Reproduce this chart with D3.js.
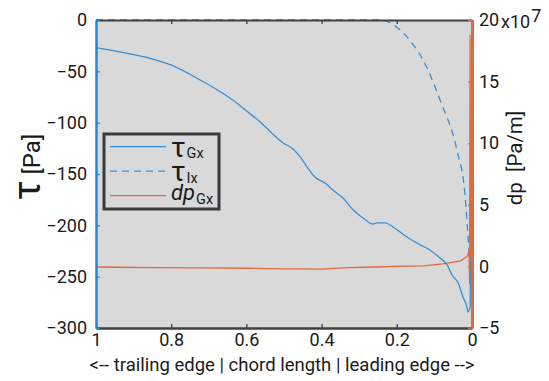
<!DOCTYPE html>
<html>
<head>
<meta charset="utf-8">
<script src="https://cdn.jsdelivr.net/npm/d3@7"></script>
<style>
  body { margin: 0; background: #fff; }
  svg text { font-family: Roboto, "Noto Sans", sans-serif; fill: #1a1a1a; }
</style>
</head>
<body>
<div id="chart"></div>
<script>
// chord position (1 = trailing edge, 0 = leading edge)
const gxChord = [1, 0.989, 0.93, 0.856, 0.801, 0.723, 0.68, 0.636, 0.6, 0.564, 0.524, 0.503, 0.476,
  0.457, 0.439, 0.418, 0.391, 0.37, 0.343, 0.316, 0.29, 0.263, 0.253, 0.231, 0.21, 0.173, 0.138,
  0.112, 0.085, 0.066, 0.053, 0.037, 0.024, 0.013, 0.011, 0.005, 0.003, 0.001, 0];
const tauGx = [-27, -27.6, -31.5, -37.3, -43.8, -58.4, -67.5, -78, -88.5, -99, -113, -119.5, -125.6,
  -133.4, -143, -153, -158.8, -165.6, -173.4, -185, -192.8, -198.7, -197.7, -197.7, -201.6, -211.4,
  -219, -224, -231.8, -238.6, -248.4, -256, -269.8, -280.5, -284.4, -279.5, -200, -60, -22];

const ixChord = [1, 0.6, 0.3, 0.245, 0.2, 0.165, 0.13, 0.085, 0.04, 0.019, 0.01, 0.003];
const tauIx = [0, 0, 0, 0, -7, -20, -39, -78, -127, -169, -214, -260];

// pressure gradient, x10^7 Pa/m
const dpChord = [1, 0.95, 0.85, 0.72, 0.6, 0.5, 0.45, 0.4, 0.33, 0.26, 0.2, 0.13, 0.077,
  0.03, 0.013, 0.01, 0.008, 0.0065, 0.005, 0.004, 0];
const dpGx = [-0.05, -0.07, -0.1, -0.12, -0.15, -0.2, -0.2, -0.22, -0.1, -0.05, 0, 0.05, 0.2,
  0.45, 0.8, 1.0, 1.3, -1.4, 18.8, 1.0, 0.5];

const xTicks = [1, 0.8, 0.6, 0.4, 0.2, 0];
const tauTicks = [0, -50, -100, -150, -200, -250, -300];
const dpTicks = [20, 15, 10, 5, 0, -5];

const blue = "#3a8fd3";
const blueAxis = "#2288d8";
const orange = "#e2693c";
const dark = "#404040";

const W = 549, H = 381;
const plot = { left: 96, right: 472, top: 20, bottom: 328 };

const svg = d3.select("#chart").append("svg").attr("width", W).attr("height", H);

const x = d3.scaleLinear().domain([1, 0]).range([plot.left, plot.right]);
const yL = d3.scaleLinear().domain([-300, 0]).range([plot.bottom, plot.top]);
const yR = d3.scaleLinear().domain([-5, 20]).range([plot.bottom, plot.top]);

svg.append("rect")
  .attr("x", plot.left).attr("y", plot.top)
  .attr("width", plot.right - plot.left).attr("height", plot.bottom - plot.top)
  .attr("fill", "#d9d9d9");

svg.append("clipPath").attr("id", "clip").append("rect")
  .attr("x", plot.left).attr("y", plot.top - 2)
  .attr("width", plot.right - plot.left).attr("height", plot.bottom - plot.top + 4);

const lines = svg.append("g").attr("clip-path", "url(#clip)");

const lineL = (xs) => d3.line()
  .x((d, i) => x(xs[i]))
  .y((d) => yL(d))
  .curve(d3.curveMonotoneX);

lines.append("path")
  .datum(tauIx)
  .attr("d", lineL(ixChord))
  .attr("fill", "none").attr("stroke", blue).attr("stroke-width", 1.3)
  .attr("stroke-dasharray", "7,5");

lines.append("path")
  .datum(tauGx)
  .attr("d", lineL(gxChord))
  .attr("fill", "none").attr("stroke", blue).attr("stroke-width", 1.3);

lines.append("path")
  .datum(dpGx)
  .attr("d", d3.line().x((d, i) => x(dpChord[i])).y((d) => yR(d)))
  .attr("fill", "none").attr("stroke", orange).attr("stroke-width", 1.3);

// axes, ticks pointing inward
const styleAxis = (g, color, width) => {
  g.attr("font-size", null).attr("font-family", null);
  g.select(".domain").attr("stroke", color).attr("stroke-width", width);
  g.selectAll(".tick line").attr("stroke", color).attr("stroke-width", 1.3);
  g.selectAll(".tick text").style("font-size", "18px").attr("fill", "#1a1a1a");
};

svg.append("g")
  .attr("transform", `translate(0,${plot.top})`)
  .call(d3.axisTop(x).tickValues(xTicks).tickSize(-4).tickSizeOuter(0).tickFormat(""))
  .call((g) => styleAxis(g, dark, 2));

svg.append("g")
  .attr("transform", `translate(0,${plot.bottom})`)
  .call(d3.axisBottom(x).tickValues(xTicks).tickSize(-4).tickSizeOuter(0).tickPadding(5)
    .tickFormat(d3.format("")))
  .call((g) => styleAxis(g, dark, 2.5));

svg.append("g")
  .attr("transform", `translate(${plot.left},0)`)
  .call(d3.axisLeft(yL).tickValues(tauTicks).tickSize(-4).tickSizeOuter(0).tickPadding(9))
  .call((g) => styleAxis(g, blueAxis, 2.5));

svg.append("g")
  .attr("transform", `translate(${plot.right},0)`)
  .call(d3.axisRight(yR).tickValues(dpTicks).tickSize(-4).tickSizeOuter(0).tickPadding(7))
  .call((g) => styleAxis(g, orange, 3));

// exponent
const expo = svg.append("text").attr("x", 501).attr("y", 28).style("font-size", "18px");
expo.append("tspan").text("x10");
expo.append("tspan").attr("dx", 1).attr("dy", -6).text("7");

// axis labels
svg.append("text")
  .attr("transform", "translate(40,167) rotate(-90)")
  .attr("text-anchor", "middle")
  .call((t) => {
    t.append("tspan").style("font-size", "38px").text("τ");
    t.append("tspan").style("font-size", "24px").text(" [Pa]");
  });

svg.append("text")
  .attr("transform", "translate(522,158) rotate(-90)")
  .attr("text-anchor", "middle")
  .style("font-size", "20.5px")
  .style("white-space", "pre")
  .text("dp  [Pa/m]");

svg.append("text")
  .attr("x", 282).attr("y", 371)
  .attr("text-anchor", "middle")
  .style("font-size", "18.5px")
  .text("<-- trailing edge | chord length | leading edge -->");

// legend
const legend = svg.append("g");
legend.append("rect")
  .attr("x", 104).attr("y", 134).attr("width", 115).attr("height", 75)
  .attr("fill", "#d9d9d9").attr("stroke", "#3a3a3a").attr("stroke-width", 3);

const legendItems = [
  { sym: "τ", sub: "Gx", color: blue, dash: null, italic: false, symDy: 10, subDy: 1.5 },
  { sym: "τ", sub: "Ix", color: blue, dash: "7,5", italic: false, symDy: 10, subDy: 1.5 },
  { sym: "dp", sub: "Gx", color: orange, dash: null, italic: true, symDy: 4, subDy: 4.5 }
];

legendItems.forEach((d, i) => {
  const cy = 146.7 + i * 24.5;
  legend.append("line")
    .attr("x1", 110).attr("x2", 166).attr("y1", cy).attr("y2", cy)
    .attr("stroke", d.color).attr("stroke-width", 1.3)
    .attr("stroke-dasharray", d.dash);
  const t = legend.append("text").attr("x", 171).attr("y", cy + d.symDy);
  t.append("tspan")
    .style("font-size", d.italic ? "22px" : "28px")
    .style("font-style", d.italic ? "italic" : "normal")
    .text(d.sym);
  t.append("tspan").attr("dx", 1).attr("dy", d.subDy).style("font-size", "14.5px").text(d.sub);
});
</script>
</body>
</html>
